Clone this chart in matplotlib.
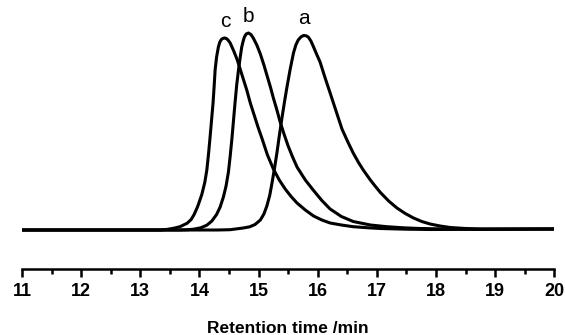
import matplotlib.pyplot as plt
import numpy as np

plt.rcParams['font.family'] = ['Liberation Sans', 'DejaVu Sans']

# GPC traces (retention time in min, detector signal in a.u.)
time_a = [11.0, 14.3, 14.52, 14.74, 14.85, 14.94, 15.03, 15.09, 15.14, 15.19, 15.23,
          15.27, 15.31, 15.35, 15.39, 15.435, 15.48, 15.535, 15.59, 15.63, 15.67,
          15.715, 15.76, 15.8, 15.84, 15.885, 15.93, 15.98, 16.04, 16.12, 16.21,
          16.31, 16.41, 16.51, 16.6, 16.69, 16.77, 16.89, 16.97, 17.06, 17.2,
          17.34, 17.48, 17.62, 17.76, 17.9, 18.07, 18.24, 18.5, 18.75, 19.97]
signal_a = [0, 0, 0.3, 2.0, 3.2, 5.5, 10, 16, 24, 35, 48,
            62, 77, 94, 110, 127, 143, 161, 177, 185, 190,
            193, 194.5, 194.3, 193, 189, 183, 176, 168, 153, 137,
            119, 101, 88, 77, 67.5, 60, 50, 44, 37.5, 29,
            22, 16.5, 12, 8.5, 6, 4, 2.5, 1.5, 1, 1]

time_b = [11.0, 13.67, 13.8, 13.9, 14.02, 14.125, 14.21, 14.29, 14.35, 14.405, 14.45,
          14.49, 14.52, 14.55, 14.575, 14.6, 14.63, 14.66, 14.69, 14.715, 14.74,
          14.76, 14.79, 14.83, 14.87, 14.91, 14.97, 15.03, 15.09, 15.14, 15.2,
          15.25, 15.31, 15.365, 15.43, 15.5, 15.575, 15.65, 15.79, 15.93, 16.07,
          16.21, 16.4, 16.6, 16.89, 17.17, 17.45, 17.73, 18.2, 18.75, 19.97]
signal_b = [0, 0, 0.3, 0.8, 2.2, 4.8, 9, 15.5, 23, 33, 44,
            58, 74, 92, 109, 126, 145, 160, 173, 183, 189,
            193, 196, 197, 195.5, 192, 185, 176, 165, 155, 143,
            132, 120, 108, 96, 84, 73, 63, 50, 39.5, 29.5,
            21, 13.5, 8.5, 5, 3.3, 2.2, 1.5, 1, 0.7, 1]

time_c = [11.0, 13.335, 13.45, 13.56, 13.67, 13.79, 13.86, 13.91, 13.97, 14.04, 14.09,
          14.125, 14.155, 14.18, 14.205, 14.23, 14.25, 14.265, 14.29, 14.32, 14.345,
          14.37, 14.4, 14.43, 14.46, 14.49, 14.52, 14.58, 14.64, 14.72, 14.8,
          14.86, 14.925, 14.99, 15.055, 15.15, 15.25, 15.35, 15.45, 15.55, 15.65,
          15.79, 15.93, 16.07, 16.21, 16.4, 16.6, 16.83, 17.06, 17.5, 17.9, 19.97]
signal_c = [0, 0, 0.6, 1.7, 3.3, 6.7, 10.5, 15.5, 23.5, 35.5, 47.5,
            60, 77, 93, 110, 127, 145, 160, 173, 183, 188,
            190.5, 191.7, 192, 191.3, 189.5, 187, 179, 170, 155, 140,
            127, 115, 103, 92, 75, 61, 50, 41, 33.5, 27,
            20, 14, 10, 7, 5, 3.3, 2.3, 1.5, 0.8, 0.5, 1]

names = ['a', 'b', 'c']
traces = [(time_a, signal_a), (time_b, signal_b), (time_c, signal_c)]

fig = plt.figure(figsize=(5.65, 3.35), dpi=100)
ax = fig.add_axes([0.039, 0.197, 0.942, 0.803])

for name, (t, s) in zip(names, traces):
    ax.plot(t, s, color='black', lw=2.2, solid_joinstyle='round')
    i = int(np.argmax(s))
    ax.annotate(name, (t[i], s[i]), xytext=(0, 8), textcoords='offset points',
                ha='center', va='baseline', fontsize=15)

ax.set_xlim(11, 20)
ax.set_ylim(-39, 230)
ax.set_xticks(range(11, 21))
ax.set_xticks(np.arange(11.5, 20, 1), minor=True)
ax.tick_params(axis='x', which='major', length=6, width=1.8, direction='out', pad=4,
               labelsize=13)
ax.tick_params(axis='x', which='minor', length=3.5, width=1.8, direction='out')
for lab in ax.get_xticklabels():
    lab.set_fontweight('bold')
ax.set_yticks([])
for side in ['left', 'right', 'top']:
    ax.spines[side].set_visible(False)
ax.spines['bottom'].set_linewidth(1.8)
ax.set_xlabel('Retention time /min', fontsize=12.5, fontweight='bold', labelpad=15)

fig.savefig('out.png', dpi=100)
